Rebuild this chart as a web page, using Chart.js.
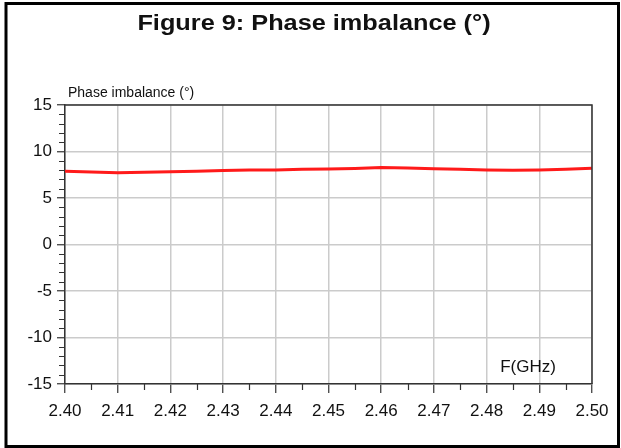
<!DOCTYPE html>
<html lang="en">
<head>
    <meta charset="UTF-8">
    <title>Figure 9: Phase imbalance</title>
    <script src="https://cdn.jsdelivr.net/npm/chart.js"></script>
    <style>
        body { margin: 0; background: #fff; }
        #grafico { display: block; }
    </style>
</head>
<body>
    <canvas id="grafico" width="621" height="448"></canvas>
<script>
    // frequencies (GHz) and phase imbalance (deg)
    const frequencias = [2.400, 2.405, 2.410, 2.415, 2.420, 2.425, 2.430, 2.435, 2.440, 2.445, 2.450,
                         2.455, 2.460, 2.465, 2.470, 2.475, 2.480, 2.485, 2.490, 2.495, 2.500];
    const fase = [7.87, 7.80, 7.72, 7.76, 7.82, 7.88, 7.95, 8.00, 8.02, 8.08, 8.13,
                  8.18, 8.27, 8.22, 8.15, 8.08, 8.02, 7.98, 8.02, 8.10, 8.20];

    const titulo = 'Figure 9: Phase imbalance (°)';
    const rotuloY = 'Phase imbalance (°)';
    const rotuloX = 'F(GHz)';

    const fonte = '"Liberation Sans", Arial, sans-serif';

    // frame, texts and the minor ticks
    const extras = {
        id: 'extras',
        afterDraw(chart) {
            const ctx = chart.ctx;
            const area = chart.chartArea;
            const sx = chart.scales.x;
            const sy = chart.scales.y;
            ctx.save();

            // plot box top / right
            ctx.strokeStyle = '#333';
            ctx.lineWidth = 1.5;
            ctx.beginPath();
            ctx.moveTo(area.left, area.top);
            ctx.lineTo(area.right, area.top);
            ctx.lineTo(area.right, area.bottom);
            ctx.stroke();

            // minor ticks
            ctx.lineWidth = 1.2;
            ctx.beginPath();
            for (let v = -15; v <= 15; v++) {
                if (v % 5 === 0) continue;
                const y = Math.round(sy.getPixelForValue(v)) + 0.5;
                ctx.moveTo(area.left - 6, y);
                ctx.lineTo(area.left, y);
            }
            for (let i = 0; i < 10; i++) {
                const x = Math.round(sx.getPixelForValue(2.405 + i * 0.01)) + 0.5;
                ctx.moveTo(x, area.bottom);
                ctx.lineTo(x, area.bottom + 6);
            }
            ctx.stroke();

            // texts
            ctx.fillStyle = '#111';
            ctx.font = 'bold 22px ' + fonte;
            ctx.textAlign = 'center';
            ctx.textBaseline = 'alphabetic';
            ctx.save();
            ctx.translate(314, 30);
            ctx.scale(1.15, 1);
            ctx.fillText(titulo, 0, 0);
            ctx.restore();

            ctx.font = '14px ' + fonte;
            ctx.textAlign = 'left';
            ctx.fillText(rotuloY, 68, 97);

            ctx.font = '17px ' + fonte;
            ctx.textAlign = 'center';
            ctx.fillText(rotuloX, 528, 372);

            // outer frame
            ctx.strokeStyle = '#000';
            ctx.lineWidth = 3;
            ctx.strokeRect(6, 3.5, 612.5, 443);
            ctx.restore();
        }
    };

    const ctx = document.getElementById('grafico').getContext('2d');
    new Chart(ctx, {
        type: 'line',
        data: {
            datasets: [{
                label: rotuloY,
                data: frequencias.map((f, i) => ({ x: f, y: fase[i] })),
                borderColor: '#ff1a1a',
                borderWidth: 3,
                pointRadius: 0,
                tension: 0,
                fill: false
            }]
        },
        options: {
            responsive: false,
            animation: false,
            devicePixelRatio: 1,
            layout: {
                padding: { top: 105, right: 29, left: 0, bottom: 0 }
            },
            plugins: {
                legend: { display: false },
                title: { display: false },
                tooltip: { enabled: false }
            },
            scales: {
                x: {
                    type: 'linear',
                    min: 2.40,
                    max: 2.50,
                    afterFit: (scale) => { scale.height = 64; },
                    grid: {
                        color: '#cbcbcb',
                        lineWidth: 1.5,
                        tickColor: '#333',
                        tickLength: 9,
                        tickWidth: 1.2
                    },
                    border: { color: '#333', width: 1.5 },
                    ticks: {
                        stepSize: 0.01,
                        autoSkip: false,
                        maxRotation: 0,
                        padding: 8,
                        color: '#111',
                        font: { family: fonte, size: 17 },
                        callback: (v) => v.toFixed(2)
                    }
                },
                y: {
                    min: -15,
                    max: 15,
                    afterFit: (scale) => { scale.width = 65; },
                    grid: {
                        color: '#cbcbcb',
                        lineWidth: 1.5,
                        tickColor: '#333',
                        tickLength: 8,
                        tickWidth: 1.2
                    },
                    border: { color: '#333', width: 1.5 },
                    ticks: {
                        stepSize: 5,
                        padding: 5,
                        color: '#111',
                        font: { family: fonte, size: 17 }
                    }
                }
            }
        },
        plugins: [extras]
    });
</script>
</body>
</html>
